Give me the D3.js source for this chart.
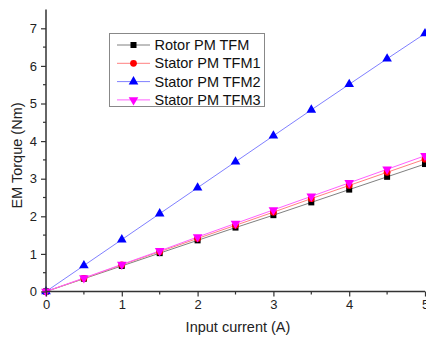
<!DOCTYPE html>
<html><head><meta charset="utf-8">
<script src="https://cdn.jsdelivr.net/npm/d3@7"></script>
<style>body{margin:0;background:#fff}svg{display:block}text{font-family:"Liberation Sans",Arial,sans-serif}</style>
</head><body>
<svg id="c" width="426" height="338"></svg>
<script>
const current = [0, 0.5, 1, 1.5, 2, 2.5, 3, 3.5, 4, 4.5, 5];
const rotorTFM = [0, 0.34, 0.68, 1.02, 1.36, 1.70, 2.03, 2.37, 2.71, 3.05, 3.39];
const statorTFM1 = [0, 0.35, 0.71, 1.06, 1.41, 1.76, 2.11, 2.47, 2.82, 3.17, 3.52];
const statorTFM2 = [0, 0.69, 1.38, 2.07, 2.76, 3.45, 4.14, 4.83, 5.51, 6.19, 6.86];
const statorTFM3 = [0, 0.36, 0.72, 1.08, 1.45, 1.81, 2.17, 2.53, 2.89, 3.25, 3.61];
const seriesNames = ["Rotor PM TFM", "Stator PM TFM1", "Stator PM TFM2", "Stator PM TFM3"];
const xTicks = [0, 1, 2, 3, 4, 5];
const yTicks = [0, 1, 2, 3, 4, 5, 6, 7];

const svg = d3.select("#c");
const L = 46, R = 425, T = 9.5, B = 291.5;
const x = d3.scaleLinear().domain([0, 5]).range([L, R]);
const y = d3.scaleLinear().domain([0, 7.5]).range([B, T]);

const styles = [
  {data: rotorTFM, line: "#808080", fill: "#000", sym: d3.symbolSquare, size: 36, rot: 0},
  {data: statorTFM1, line: "#ff8080", fill: "#ff0000", sym: d3.symbolCircle, size: 36, rot: 0},
  {data: statorTFM2, line: "#8080ff", fill: "#0000ff", sym: d3.symbolTriangle, size: 40, rot: 0},
  {data: statorTFM3, line: "#ff60ff", fill: "#ff00ff", sym: d3.symbolTriangle, size: 40, rot: 180}
];

const line = d3.line().x((d,i)=>x(current[i])).y(d=>y(d));
styles.forEach((s,k)=>{
  svg.append("path").attr("d", line(s.data)).attr("fill","none").attr("stroke", s.line).attr("stroke-width",1);
});
styles.forEach((s,k)=>{
  const sym = d3.symbol().type(s.sym).size(s.size);
  svg.append("g").selectAll("path").data(s.data).join("path")
    .attr("d", sym)
    .attr("transform",(d,i)=>`translate(${x(current[i])},${y(d)}) rotate(${s.rot})`)
    .attr("fill", s.fill);
});

// axes
const xAxis = d3.axisBottom(x).tickValues(xTicks).tickSize(5).tickPadding(3).tickFormat(d3.format("d"));
const gx = svg.append("g").attr("transform",`translate(0,${B})`).call(xAxis);
gx.select(".domain").attr("stroke","#333").attr("stroke-width",1.5).attr("d",`M${L},0H${R}`);
gx.selectAll(".tick line").attr("stroke","#333").attr("stroke-width",1.2);
gx.selectAll("text").attr("font-size",13).attr("fill","#222");
const gxm = svg.append("g").attr("transform",`translate(0,${B})`);
gxm.selectAll("line").data([0.5,1.5,2.5,3.5,4.5]).join("line")
  .attr("x1",d=>x(d)).attr("x2",d=>x(d)).attr("y1",0).attr("y2",3).attr("stroke","#333").attr("stroke-width",1.2);

const yAxis = d3.axisLeft(y).tickValues(yTicks).tickSize(5).tickPadding(4).tickFormat(d3.format("d"));
const gy = svg.append("g").attr("transform",`translate(${L},0)`).call(yAxis);
gy.select(".domain").attr("stroke","#333").attr("stroke-width",1.5).attr("d",`M0,${B}V${T}`);
gy.selectAll(".tick line").attr("stroke","#333").attr("stroke-width",1.2);
gy.selectAll("text").attr("font-size",13).attr("fill","#222");
const gym = svg.append("g").attr("transform",`translate(${L},0)`);
gym.selectAll("line").data([0.5,1.5,2.5,3.5,4.5,5.5,6.5]).join("line")
  .attr("y1",d=>y(d)).attr("y2",d=>y(d)).attr("x1",0).attr("x2",-3).attr("stroke","#333").attr("stroke-width",1.2);

svg.append("text").attr("x", 238).attr("y", 332).attr("text-anchor","middle").attr("font-size",14.5).attr("fill","#222").text("Input current (A)");
svg.append("text").attr("transform",`translate(22,${(T+B)/2+5}) rotate(-90)`).attr("text-anchor","middle").attr("font-size",14.5).attr("fill","#222").text("EM Torque (Nm)");

// legend
const lg = svg.append("g");
lg.append("rect").attr("x",109.5).attr("y",33.5).attr("width",155).attr("height",73).attr("fill","#fff").attr("stroke","#888").attr("stroke-width",1);
styles.forEach((s,k)=>{
  const yy = 45 + k*18.3;
  lg.append("line").attr("x1",117).attr("x2",150).attr("y1",yy).attr("y2",yy).attr("stroke",s.line).attr("stroke-width",1);
  lg.append("path").attr("d", d3.symbol().type(s.sym).size(s.size)).attr("transform",`translate(133.5,${yy}) rotate(${s.rot})`).attr("fill",s.fill);
  lg.append("text").attr("x",154.5).attr("y",yy+5).attr("font-size",14.5).attr("fill","#111").text(seriesNames[k]);
});
</script>
</body></html>
